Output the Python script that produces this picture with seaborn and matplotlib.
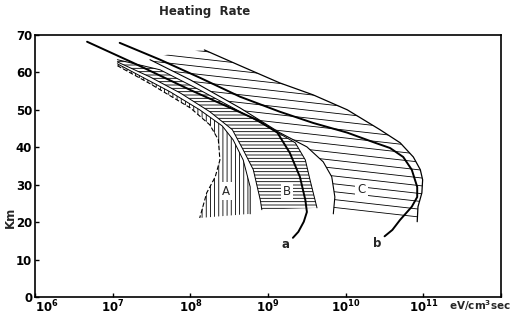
import matplotlib
matplotlib.use("Agg")
import matplotlib.pyplot as plt
import numpy as np
import seaborn as sns
from matplotlib.ticker import FixedLocator, NullLocator

# Heating rate, kept as log10(eV/cm^3 sec); height in km
curve_a_log = [6.67, 7.26, 8.00, 8.86, 9.12, 9.28, 9.41, 9.48, 9.50, 9.46, 9.39, 9.32]
curve_a_km = [68.2, 62.6, 55.3, 47.3, 43.9, 38.5, 32.1, 25.9, 22.7, 20.1, 17.4, 15.8]

curve_b_log = [7.09, 7.61, 8.12, 8.64, 9.15, 9.58, 10.02, 10.35, 10.57, 10.74, 10.85,
               10.92, 10.92, 10.85, 10.70, 10.60, 10.50]
curve_b_km = [67.9, 63.4, 58.6, 53.5, 49.5, 46.5, 43.9, 41.4, 39.8, 37.4, 34.0,
              29.4, 26.7, 24.1, 20.6, 17.9, 16.2]

# outer (upper/right) edge of region C
outer_c_log = [8.18, 8.64, 9.15, 9.58, 10.02, 10.44, 10.70, 10.87, 10.96, 10.99, 10.98, 10.93, 10.92]
outer_c_km = [66.0, 61.8, 57.2, 54.0, 50.0, 44.7, 41.2, 37.4, 34.0, 31.3, 27.8, 24.1, 20.1]

# inner (left) edge of region C, bottom to top
inner_c_log = [9.84, 9.86, 9.82, 9.71, 9.50, 9.15, 8.64, 8.00, 7.48]
inner_c_km = [22.2, 26.7, 32.1, 36.1, 40.1, 43.9, 50.5, 58.0, 63.4]

# region B: upper/right edge (top to bottom), then left edge (bottom to top)
b_right_log = [7.06, 7.61, 8.12, 8.64, 9.02, 9.35, 9.48, 9.54, 9.63]
b_right_km = [63.4, 60.7, 55.3, 49.5, 45.2, 41.2, 36.6, 31.3, 23.8]
b_left_log = [8.92, 8.90, 8.81, 8.68, 8.54, 8.25, 7.87, 7.48, 7.06]
b_left_km = [23.3, 25.9, 34.0, 39.3, 44.7, 49.5, 54.5, 58.8, 62.8]

# region A: left (dashed) edge top to bottom, then right edge bottom to top
a_left_log = [7.06, 7.48, 8.00, 8.25, 8.36, 8.38, 8.32, 8.21, 8.15, 8.12]
a_left_km = [61.8, 57.0, 50.5, 46.0, 42.0, 36.6, 32.1, 27.8, 23.3, 21.1]
a_right_log = [8.77, 8.77, 8.68, 8.55, 8.41, 8.12, 7.74, 7.35, 7.06]
a_right_km = [22.2, 29.4, 36.6, 42.0, 45.7, 50.0, 54.8, 59.1, 62.3]

region_labels = ["A", "B", "C"]
region_label_log = [8.46, 9.24, 10.20]
region_label_km = [28.3, 28.1, 28.6]

curve_labels = ["a", "b"]
curve_label_log = [9.23, 10.40]
curve_label_km = [13.9, 14.4]

x_tick_exp = [6, 7, 8, 9, 10, 11, 12]
x_tick_labels = [r"$10^{6}$", r"$10^{7}$", r"$10^{8}$", r"$10^{9}$",
                 r"$10^{10}$", r"$10^{11}$", ""]
y_ticks = [0, 10, 20, 30, 40, 50, 60, 70]


def hr(vals):
    return 10 ** np.asarray(vals)


sns.set_theme(style="ticks")
plt.rcParams["font.family"] = ["DejaVu Sans"]
plt.rcParams["mathtext.default"] = "regular"
plt.rcParams["hatch.linewidth"] = 0.6
plt.rcParams["hatch.color"] = "black"

fig = plt.figure(figsize=(5.15, 3.21), dpi=100)
ax = fig.add_axes([0.068, 0.075, 0.905, 0.816])
ax.set_xscale("log")

# region C: sparse slanted hatching clipped to the outline
c_x = np.concatenate([hr([7.74]), hr(outer_c_log), hr(inner_c_log)])
c_y = np.concatenate([[65.0], outer_c_km, inner_c_km])
c_patch = ax.fill(c_x, c_y, facecolor="none", edgecolor="none", lw=0)[0]
for c in np.arange(-0.1, 1.4, 0.03):
    ln, = ax.plot([0, 1], [c, c - 0.2], transform=ax.transAxes, color="black", lw=0.6)
    ln.set_clip_path(c_patch)

# region B: dense horizontal hatching
b_x = np.concatenate([hr(b_right_log), hr(b_left_log)])
b_y = np.concatenate([b_right_km, b_left_km])
ax.fill(b_x, b_y, facecolor="white", edgecolor="black", hatch="-----", lw=0)

# region A: vertical hatching
a_x = np.concatenate([hr(a_left_log), hr(a_right_log)])
a_y = np.concatenate([a_left_km, a_right_km])
ax.fill(a_x, a_y, facecolor="white", edgecolor="black", hatch="||||", lw=0)

# region outlines
sns.lineplot(x=hr(inner_c_log), y=inner_c_km, sort=False, estimator=None, color="black", lw=0.8, ax=ax)
sns.lineplot(x=hr(b_right_log), y=b_right_km, sort=False, estimator=None, color="black", lw=0.7, ax=ax)
sns.lineplot(x=hr(b_left_log), y=b_left_km, sort=False, estimator=None, color="black", lw=0.7, ax=ax)
sns.lineplot(x=hr(a_right_log), y=a_right_km, sort=False, estimator=None, color="black", lw=0.7, ax=ax)
ax.plot(hr(a_left_log), a_left_km, color="black", lw=0.8, ls=(0, (4, 2)))

# curves
sns.lineplot(x=hr(outer_c_log), y=outer_c_km, sort=False, estimator=None, color="black", lw=0.9, ax=ax)
sns.lineplot(x=hr(curve_a_log), y=curve_a_km, sort=False, estimator=None, color="black", lw=1.4, ax=ax)
sns.lineplot(x=hr(curve_b_log), y=curve_b_km, sort=False, estimator=None, color="black", lw=1.4, ax=ax)

for lab, lx, ly in zip(region_labels, region_label_log, region_label_km):
    ax.text(10 ** lx, ly, lab, ha="center", va="center", fontsize=8.5,
            bbox=dict(facecolor="white", edgecolor="none", pad=1.5))
for lab, lx, ly in zip(curve_labels, curve_label_log, curve_label_km):
    ax.text(10 ** lx, ly, lab, ha="center", va="center", fontsize=8.5, fontweight="bold")

ax.set_xlim(1e6, 1e12)
ax.set_ylim(0, 70)
ax.xaxis.set_major_locator(FixedLocator([10.0 ** e for e in x_tick_exp]))
ax.xaxis.set_minor_locator(NullLocator())
ax.set_xticklabels(x_tick_labels)
ax.set_yticks(y_ticks)
ax.tick_params(direction="in", length=3, width=1, labelsize=8.5, colors="black")
ax.tick_params(axis="x", pad=1.5)
ax.tick_params(axis="y", pad=2)
for t in ax.get_xticklabels() + ax.get_yticklabels():
    t.set_fontweight("bold")
ax.get_xticklabels()[0].set_horizontalalignment("left")
for sp in ax.spines.values():
    sp.set_visible(True)
    sp.set_linewidth(1.2)
    sp.set_color("black")
ax.set_xlabel("")
ax.set_ylabel("")

fig.text(0.398, 0.963, "Heating  Rate", ha="center", va="center", fontsize=8.5, fontweight="bold")
fig.text(0.02, 0.324, "Km", rotation=90, ha="center", va="center", fontsize=8.5, fontweight="bold")
fig.text(0.872, 0.034, "eV/cm$^3$sec", ha="left", va="baseline", fontsize=7.5, fontweight="bold")

fig.savefig("out.png", dpi=100)
